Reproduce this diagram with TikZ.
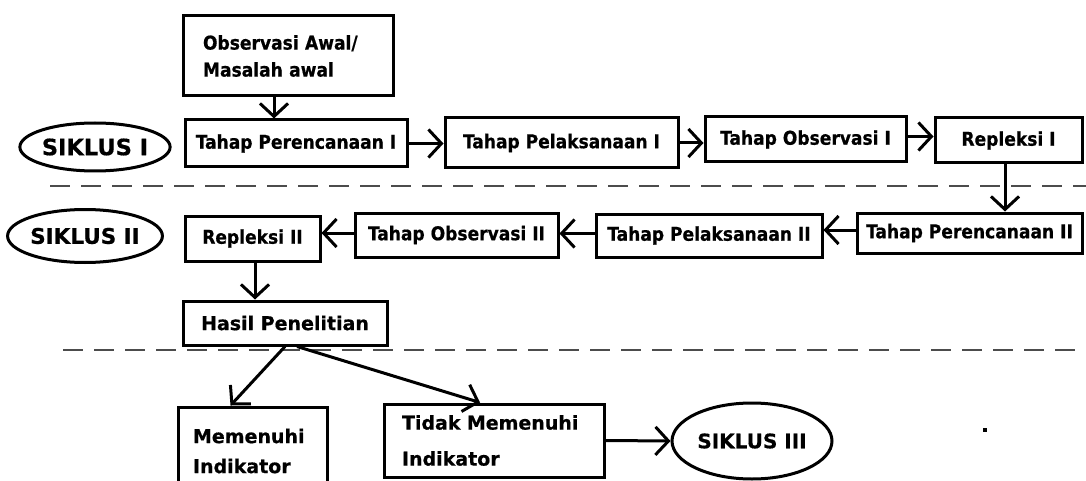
\documentclass[tikz,border=0pt]{standalone}
\usepackage{fontspec}
\setmainfont{DejaVu Sans}[BoldFeatures={FakeBold=0.6}]
\newfontfamily\condfont{DejaVu Sans Condensed}[BoldFeatures={FakeBold=0.6}]
\usetikzlibrary{arrows.meta,shapes.geometric}
\tikzset{
  box/.style={draw,line width=3pt,rectangle,inner sep=0pt},
  oval/.style={draw,line width=3pt,ellipse,inner sep=0pt},
  narrow/.style={font=\condfont\bfseries\fontsize{19}{27}\selectfont},
  wide/.style={font=\bfseries\fontsize{19}{30}\selectfont},
  sik/.style={font=\bfseries\fontsize{#1}{24}\selectfont},
  arr/.style={line width=3pt,-{Straight Barb[length=13pt,width=28pt,line width=3pt]}},
  sep/.style={line width=2pt,draw=black!70,dash pattern=on 20pt off 11pt}
}
\begin{document}
\begin{tikzpicture}[x=1pt,y=-1pt]
\useasboundingbox (0,0) rectangle (1086,481);
\fill[white] (0,0) rectangle (1086,481);
% separators
\draw[sep] (50,186) -- (1086,186);
\draw[sep] (63,350) -- (1086,350);
% boxes
\node[box,narrow,minimum width=210pt,minimum height=80pt,align=left,text width=170pt] (obs) at (288,56) {Observasi Awal/\\Masalah awal};
\node[box,narrow,minimum width=222pt,minimum height=47pt] (p1) at (296,143.5) {Tahap Perencanaan I};
\node[box,narrow,minimum width=233pt,minimum height=50pt] (p2) at (561.5,143) {Tahap Pelaksanaan I};
\node[box,narrow,minimum width=201pt,minimum height=45pt] (p3) at (805.5,139.5) {Tahap Observasi I};
\node[box,narrow,minimum width=147pt,minimum height=45pt] (p4) at (1008.5,140.5) {Repleksi I};
\node[box,narrow,minimum width=225pt,minimum height=40pt] (q1) at (969.5,233) {Tahap Perencanaan II};
\node[box,narrow,minimum width=226pt,minimum height=43pt] (q2) at (709,235.5) {Tahap Pelaksanaan II};
\node[box,narrow,minimum width=203pt,minimum height=44pt] (q3) at (456.5,235) {Tahap Observasi II};
\node[box,narrow,minimum width=135pt,minimum height=45pt] (q4) at (252.5,238.5) {Repleksi II};
\node[box,wide,minimum width=204pt,minimum height=44pt] (hasil) at (285,323) {Hasil Penelitian};
\node[box,wide,minimum width=149pt,minimum height=88pt,align=left,text width=119pt] (mem) at (252.5,451) {Memenuhi\\Indikator};
\node[box,wide,minimum width=220pt,minimum height=73pt,align=left,text width=184pt] (tidak) at (494,440.5) {Tidak Memenuhi\\[6pt]Indikator};
% ovals
\node[oval,sik=22.5,minimum width=130pt,minimum height=48pt] (e1) at (95,147) {SIKLUS I};
\node[oval,sik=21.5,minimum width=144pt,minimum height=53pt] (e2) at (85,236) {SIKLUS II};
\node[oval,sik=20,minimum width=160pt,minimum height=76pt] (e3) at (752,441) {SIKLUS III};
% dot
\node[fill=black,minimum size=4pt,inner sep=0pt] (dot) at (985,430) {};
% connectors
\draw[arr] ([xshift=-14pt]obs.south) -- ([xshift=-14pt]obs.south |- p1.north);
\draw[arr] (p1.east) -- (p1.east -| p2.west);
\draw[arr] (p2.east) -- (p2.east -| p3.west);
\draw[arr] ([yshift=3pt]p3.east) -- ([yshift=3pt]p3.east -| p4.west);
\draw[arr] ([xshift=-3.5pt]p4.south) -- ([xshift=-3.5pt]p4.south |- q1.north);
\draw[arr] ([yshift=3pt]q1.west) -- ([yshift=3pt]q1.west -| q2.east);
\draw[arr] ([yshift=2pt]q2.west) -- ([yshift=2pt]q2.west -| q3.east);
\draw[arr] ([yshift=2pt]q3.west) -- ([yshift=2pt]q3.west -| q4.east);
\draw[arr] ([xshift=2.5pt]q4.south) -- ([xshift=2.5pt]q4.south |- hasil.north);
\draw[arr] (hasil.south) -- ([xshift=-22pt]mem.north);
\draw[arr] ([xshift=12pt]hasil.south) -- ([xshift=-14pt]tidak.north);
\draw[arr] (tidak.east) -- (e3.west);
\end{tikzpicture}
\end{document}
